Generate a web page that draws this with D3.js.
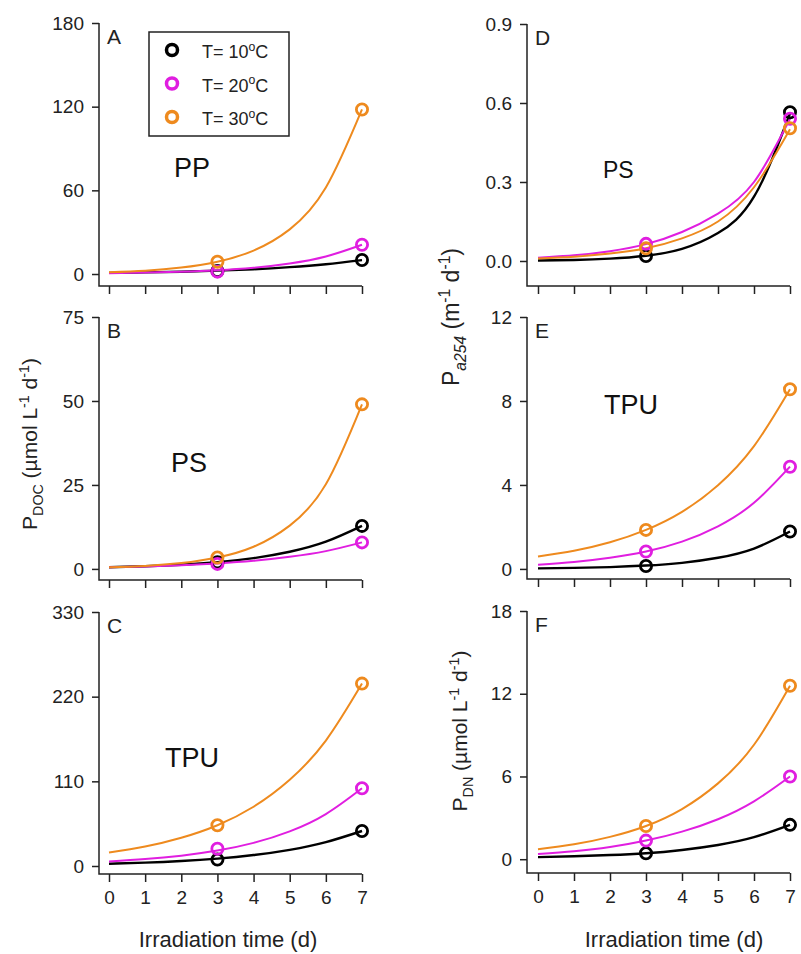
<!DOCTYPE html>
<html>
<head>
<meta charset="utf-8">
<script src="https://cdn.jsdelivr.net/npm/d3@7"></script>
<style>
  body { margin: 0; background: #fff; }
  text { font-family: "Liberation Sans", Arial, sans-serif; fill: #222; }
</style>
</head>
<body>
<svg id="chart" width="801" height="954"></svg>
<script>

// ---- data ----
let days = [0, 1, 2, 3, 4, 5, 6, 7];
let obsDays = [3, 7];
let tempNames = ["10", "20", "30"];
let tempColors = ["#000000", "#e01ee0", "#ee8a1e"];

// fitted curves at each day, order: 10, 20, 30 oC
let curveA = [[0.8, 1.15, 1.65, 2.4, 3.4, 4.9, 7.0, 10], [0.6, 1.0, 1.65, 2.7, 4.5, 7.6, 12.6, 21], [1.3, 2.4, 4.6, 8.8, 16.8, 32, 62, 118]];
let curveB = [[0.5, 0.8, 1.26, 2.0, 3.2, 5.1, 8.1, 12.8], [0.5, 0.74, 1.1, 1.63, 2.4, 3.6, 5.3, 7.9], [0.46, 0.9, 1.75, 3.4, 6.6, 12.9, 25.2, 49]];
let curveC = [[3, 4.4, 6.5, 9.6, 14.2, 21, 31, 45.5], [6, 9, 13.4, 20, 30, 45, 67.5, 101], [17.4, 25.3, 36.7, 53, 77, 112, 163, 237]];
let curveD = [[0.002, 0.004, 0.009, 0.02, 0.046, 0.106, 0.244, 0.56], [0.0125, 0.0215, 0.037, 0.064, 0.11, 0.18, 0.3, 0.54], [0.009, 0.016, 0.028, 0.048, 0.086, 0.15, 0.28, 0.5]];
let curveE = [[0.026, 0.048, 0.087, 0.16, 0.29, 0.53, 0.97, 1.78], [0.2, 0.33, 0.53, 0.83, 1.3, 2.03, 3.15, 4.87], [0.59, 0.865, 1.27, 1.86, 2.72, 3.99, 5.85, 8.56]];
let curveF = [[0.15, 0.22, 0.3, 0.43, 0.67, 1.03, 1.6, 2.49], [0.38, 0.58, 0.88, 1.35, 2.0, 2.9, 4.2, 6.0], [0.72, 1.08, 1.62, 2.41, 3.64, 5.5, 8.3, 12.58]];

// measured points at day 3 and day 7
let pointsA = [[2.2, 10], [1.7, 21], [8.8, 118]];
let pointsB = [[2.0, 12.8], [1.5, 7.9], [3.4, 49]];
let pointsC = [[8.3, 45.5], [22.5, 101], [53, 237]];
let pointsD = [[0.019, 0.565], [0.065, 0.54], [0.048, 0.504]];
let pointsE = [[0.14, 1.78], [0.83, 4.87], [1.86, 8.56]];
let pointsF = [[0.43, 2.49], [1.35, 6.0], [2.41, 12.58]];

let yTicksA = [0, 60, 120, 180];
let yTicksB = [0, 25, 50, 75];
let yTicksC = [0, 110, 220, 330];
let yTicksD = [0, 0.3, 0.6, 0.9];
let yTicksE = [0, 4, 8, 12];
let yTicksF = [0, 6, 12, 18];

// ---- layout ----
let svg = d3.select("#chart");

let cols = [
  {axisX: 99, x0: 109, x7: 362},
  {axisX: 527, x0: 538, x7: 790}
];

let panels = [
  {id: "A", col: 0, top: 23, bottom: 286, yMin: -8.6, yMax: 180, ticks: yTicksA, fmt: "d", curves: curveA, pts: pointsA, name: "PP", nx: 174, ny: 177, ns: 27},
  {id: "B", col: 0, top: 317, bottom: 580, yMin: -3.3, yMax: 75, ticks: yTicksB, fmt: "d", curves: curveB, pts: pointsB, name: "PS", nx: 171, ny: 472, ns: 27},
  {id: "C", col: 0, top: 612, bottom: 874, yMin: -10.4, yMax: 330, ticks: yTicksC, fmt: "d", curves: curveC, pts: pointsC, name: "TPU", nx: 165, ny: 767, ns: 27, xlab: true},
  {id: "D", col: 1, top: 24, bottom: 286, yMin: -0.095, yMax: 0.9, ticks: yTicksD, fmt: ".1f", curves: curveD, pts: pointsD, name: "PS", nx: 603, ny: 178, ns: 23},
  {id: "E", col: 1, top: 317, bottom: 579, yMin: -0.48, yMax: 12, ticks: yTicksE, fmt: "d", curves: curveE, pts: pointsE, name: "TPU", nx: 604, ny: 414, ns: 27},
  {id: "F", col: 1, top: 611, bottom: 873, yMin: -1, yMax: 18, ticks: yTicksF, fmt: "d", curves: curveF, pts: pointsF, name: "", nx: 0, ny: 0, ns: 0, xlab: true}
];

panels.forEach(drawPanel);

function drawPanel (p) {
  let c = cols[p.col];
  let x = d3.scaleLinear().domain([0, 7]).range([c.x0, c.x7]);
  let y = d3.scaleLinear().domain([p.yMin, p.yMax]).range([p.bottom, p.top]);
  let g = svg.append("g").attr("id", "panel" + p.id);

  // y axis
  let ya = g.append("g")
    .attr("transform", `translate(${c.axisX},0)`)
    .call(d3.axisLeft(y).tickValues(p.ticks).tickSize(7).tickPadding(8)
      .tickSizeOuter(0).tickFormat(d3.format(p.fmt)));
  ya.select(".domain").remove();
  styleAxis(ya);

  // x axis
  let xa = g.append("g")
    .attr("transform", `translate(0,${p.bottom})`)
    .call(d3.axisBottom(x).tickValues(days).tickSize(8).tickPadding(9)
      .tickSizeOuter(0).tickFormat(p.xlab ? d3.format("d") : ""));
  xa.select(".domain").remove();
  styleAxis(xa);

  // L-shaped frame
  g.append("path")
    .attr("d", `M${c.axisX},${p.top}V${p.bottom}H${c.x7}`)
    .attr("fill", "none").attr("stroke", "#222").attr("stroke-width", 1.5);

  let line = d3.line()
    .x((d, i) => x(days[i]))
    .y(d => y(d))
    .curve(d3.curveNatural);

  p.curves.forEach((cv, k) => {
    g.append("path")
      .attr("d", line(cv))
      .attr("fill", "none")
      .attr("stroke", tempColors[k])
      .attr("stroke-width", k == 0 ? 2.4 : 2);
  });
  p.pts.forEach((pt, k) => {
    g.selectAll(null).data(pt).enter().append("circle")
      .attr("cx", (d, i) => x(obsDays[i]))
      .attr("cy", d => y(d))
      .attr("r", 5.6)
      .attr("fill", "none")
      .attr("stroke", tempColors[k])
      .attr("stroke-width", 2.8);
  });

  g.append("text")
    .attr("x", c.axisX + 8).attr("y", p.top + 21)
    .attr("font-size", 21)
    .text(p.id);

  if (p.name) {
    g.append("text")
      .attr("x", p.nx).attr("y", p.ny)
      .attr("font-size", p.ns)
      .style("fill", "#111")
      .text(p.name);
  }
}

function styleAxis (a) {
  a.selectAll("line").attr("stroke", "#222").attr("stroke-width", 1.5);
  a.selectAll("text").attr("font-size", 19).style("fill", "#222")
    .style("font-family", "\"Liberation Sans\", Arial, sans-serif");
}

// ---- axis titles ----
function richText (sel, parts, size) {
  let cur = 0;
  parts.forEach(pt => {
    let shift = pt[1] == "sub" ? size * 0.3 : pt[1] == "sup" ? -size * 0.4 : 0;
    let ts = sel.append("tspan")
      .attr("dy", shift - cur)
      .attr("font-size", pt[1] ? size * 0.68 : size)
      .text(pt[0]);
    if (pt[2]) ts.attr("font-style", "italic");
    cur = shift;
  });
}

richText(svg.append("text").attr("text-anchor", "middle")
  .attr("transform", "translate(37,444) rotate(-90)"),
  [["P"], ["DOC", "sub"], [" (µmol L"], ["-1", "sup"], [" d"], ["-1", "sup"], [")"]], 21);

richText(svg.append("text").attr("text-anchor", "middle")
  .attr("transform", "translate(459,317) rotate(-90)"),
  [["P"], ["a254", "sub", true], [" (m"], ["-1", "sup"], [" d"], ["-1", "sup"], [")"]], 23);

richText(svg.append("text").attr("text-anchor", "middle")
  .attr("transform", "translate(467,731) rotate(-90)"),
  [["P"], ["DN", "sub"], [" (µmol L"], ["-1", "sup"], [" d"], ["-1", "sup"], [")"]], 21);

svg.append("text").attr("x", 228).attr("y", 947).attr("text-anchor", "middle")
  .attr("font-size", 22).text("Irradiation time (d)");
svg.append("text").attr("x", 674).attr("y", 947).attr("text-anchor", "middle")
  .attr("font-size", 22).text("Irradiation time (d)");

// ---- legend ----
let leg = svg.append("g");
leg.append("rect")
  .attr("x", 149).attr("y", 32).attr("width", 140).attr("height", 104)
  .attr("fill", "#fff").attr("stroke", "#222").attr("stroke-width", 1.5);
tempNames.forEach((t, i) => {
  let cy = 50 + i * 33.5;
  leg.append("circle")
    .attr("cx", 172).attr("cy", cy).attr("r", 5.5)
    .attr("fill", "none").attr("stroke", tempColors[i]).attr("stroke-width", 3.5);
  richText(leg.append("text").attr("x", 202).attr("y", cy + 8),
    [["T= " + t], ["o", "sup"], ["C"]], 18);
});

</script>
</body>
</html>
